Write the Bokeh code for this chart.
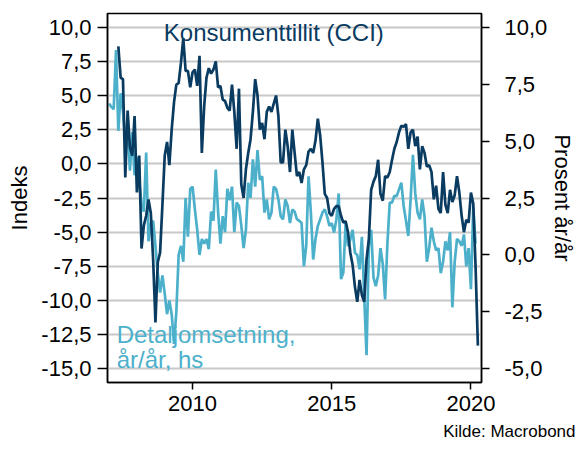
from bokeh.plotting import figure
from bokeh.models import Range1d, LinearAxis, FixedTicker, CustomJSTickFormatter, Label, Title
from bokeh.embed import file_html
from bokeh.resources import INLINE

# ---- data ----
cci_start = (2007, 5)   # first month of CCI series
cci_values = [8.6, 6.3, 6.2, -1.0, 3.9, 1.2, 0.6, 3.5, -2.1, 0.6,
              -6.2, -4.5, -3.8, -2.6, -3.6, -7.0, -11.6, -7.2, -6.5, -3.0,
              0.6, 1.6, -0.1, 2.5, 4.5, 5.8, 5.9, 7.4, 9.2, 6.8,
              6.8, 5.6, 6.7, 6.9, 5.7, 7.9, 0.8, 4.2, 6.3, 7.0,
              6.6, 6.9, 7.5, 5.6, 5.7, 4.7, 4.6, 4.1, 3.9, 5.8,
              3.8, 1.1, 5.5, -1.5, -2.5, -0.4, 0.8, 1.8, 3.8, 6.2,
              5.0, 2.5, 3.0, 1.8, 3.8, 4.2, 3.8, 4.4, 5.0, 3.5,
              0.1, 0.1, 2.5, 1.3, -0.6, 2.5, 0.8, -0.9, -0.6, -1.4,
              -0.4, -0.1, 0.9, 1.1, 0.8, 1.7, 3.3, 2.1, 0.1, -2.2,
              -2.5, -3.6, -3.8, -3.3, -3.1, -3.1, -3.8, -4.3, -4.2, -5.0,
              -6.5, -7.4, -9.0, -10.1, -8.5, -9.6, -10.1, -7.0, -5.5, -1.9,
              -1.3, -0.9, 0.3, -2.2, -2.7, -0.9, -1.0, -0.6, 0.3, 1.1,
              1.6, 2.3, 2.8, 2.7, 2.9, 1.1, 2.3, 2.5, 1.3, 2.0,
              -0.4, 1.3, 0.8, -0.2, -0.1, -0.6, -2.6, -1.6, -3.3, -3.6,
              -0.6, -3.0, -3.6, -1.9, -2.8, -2.3, -0.9, -2.1, -3.8, -5.0,
              -4.1, -4.3, -2.1, -2.9, -7.5, -13.3]

retail_start = (2007, 1)
retail_values = [6.65, 6.5, 6.4, 9.0, 5.45, 7.1, 6.3, 5.0, 5.5, 3.7,
                 5.4, 3.5, 4.3, 3.3, 2.2, 1.9, 4.5, 0.6, 1.4, 1.5,
                 0.4, -0.8, -1.65, -0.9, -1.7, -2.6, -2.0, -2.6, -3.9, -2.5,
                 0.0, 0.4, -0.3, 2.5, 0.8, 2.9, 3.0, 2.0, 1.1, 0.0,
                 0.7, 0.5, 0.7, 0.25, 1.9, 1.5, 3.75, 1.9, 0.5, 1.7,
                 1.0, 2.9, 2.4, 3.0, 1.0, 2.3, 2.15, 1.3, 0.3, 1.1,
                 3.17, 2.5, 4.2, 3.0, 4.6, 3.3, 3.45, 1.86, 2.44, 1.56,
                 1.86, 3.0, 2.9, 2.44, 1.7, 1.56, 2.44, 2.15, 1.4, 2.0,
                 1.9, 1.56, 1.5, 1.4, -0.5, 0.4, 3.45, 1.86, -0.2, 0.7,
                 1.27, 1.56, 1.86, 2.0, 1.7, 1.27, 1.4, 0.98, 1.56, 2.7,
                 -1.06, -0.77, 1.4, 0.39, 0.68, 1.1, 0.1, 0.0, -0.63, 0.8,
                 -1.8, -4.4, 0.39, 1.1, -1.0, -1.37, -0.9, 0.3, -0.4, -1.95,
                 0.5, 2.3, 2.3, 2.6, 2.58, 2.88, 3.17, 2.15, 1.5, 0.83,
                 2.44, 4.4, 2.7, 1.86, 1.56, 2.44, 1.7, -0.3, 0.3, 1.2,
                 0.6, 0.2, 0.3, -0.8, -0.3, 0.6, 0.2, 1.0, -2.3, -0.3,
                 0.7, 0.6, 0.4, 0.9, -0.5, 0.3, -1.5, 2.1, 0.5]

left_ticks = [-15, -12.5, -10, -7.5, -5, -2.5, 0, 2.5, 5, 7.5, 10]
right_ticks = [-5, -2.5, 0, 2.5, 5, 7.5, 10]
x_ticks = [2010, 2015, 2020]

cci_label = "Konsumenttillit (CCI)"
retail_label_1 = "Detaljomsetning,"
retail_label_2 = "år/år, hs"
left_title = "Indeks"
right_title = "Prosent år/år"
source_text = "Kilde: Macrobond"


def month_axis(start, n):
    y0, m0 = start
    return [y0 + (m0 - 1 + i) / 12.0 for i in range(n)]


cci_x = month_axis(cci_start, len(cci_values))
retail_x = month_axis(retail_start, len(retail_values))

DARK = "#0a3b61"
LIGHT = "#4cb0cb"
FONT = "Liberation Sans"

p = figure(width=578, height=452, output_backend="svg", toolbar_location=None, tools="",
           x_range=Range1d(2006.944, 2020.38), y_range=Range1d(-16, 11),
           min_border_left=107, min_border_right=91, min_border_top=13, min_border_bottom=70)
p.extra_y_ranges = {"right": Range1d(-5.6, 10.6)}

p.background_fill_color = "white"
p.border_fill_color = "white"
p.outline_line_color = "black"
p.outline_line_width = 1.5
p.outline_line_alpha = 1.0

fmt = CustomJSTickFormatter(code="return tick.toFixed(1).replace('.', ',');")

def style_axis(ax, tick_out):
    ax.axis_line_color = "black"
    ax.axis_line_width = 1.5
    ax.major_tick_line_color = "black"
    ax.major_tick_line_width = 1.5
    ax.major_tick_out = tick_out
    ax.major_tick_in = 0
    ax.minor_tick_line_color = None
    ax.major_label_text_font = FONT
    ax.major_label_text_font_size = "22px"
    ax.major_label_text_color = "black"
    ax.axis_label_text_font = FONT
    ax.axis_label_text_font_size = "22px"
    ax.axis_label_text_font_style = "normal"
    ax.axis_label_text_color = "black"

ly = p.yaxis[0]
ly.ticker = FixedTicker(ticks=left_ticks)
ly.formatter = fmt
ly.axis_label = left_title
style_axis(ly, 10)
ly.major_label_standoff = 6
ly.axis_label_standoff = 6

ry = LinearAxis(y_range_name="right", ticker=FixedTicker(ticks=right_ticks), formatter=fmt,
                axis_label=right_title)
style_axis(ry, 8)
ry.major_label_standoff = 15
ry.axis_label_standoff = 0
p.add_layout(ry, "right")

xa = p.xaxis[0]
xa.ticker = FixedTicker(ticks=x_ticks)
style_axis(xa, 7)
xa.major_label_standoff = 6

p.add_layout(Title(text=source_text, align="right", text_font=FONT, text_font_size="17px",
                   text_font_style="normal", text_color="black", offset=-94, standoff=12), "below")

p.xgrid.grid_line_color = None
p.ygrid.ticker = FixedTicker(ticks=left_ticks)
p.ygrid.grid_line_color = "#c8c8c8"
p.ygrid.grid_line_width = 2

p.line(retail_x, retail_values, y_range_name="right", line_color=LIGHT, line_width=2.7)
p.line(cci_x, cci_values, line_color=DARK, line_width=2.7)

p.add_layout(Label(x=2008.966, y=9.62, text=cci_label, text_color=DARK, text_font=FONT,
                   text_font_size="24px", text_baseline="alphabetic"))
p.add_layout(Label(x=2007.273, y=-12.47, text=retail_label_1, text_color=LIGHT, text_font=FONT,
                   text_font_size="24px", text_baseline="alphabetic"))
p.add_layout(Label(x=2007.273, y=-14.29, text=retail_label_2, text_color=LIGHT, text_font=FONT,
                   text_font_size="24px", text_baseline="alphabetic"))

open("out.html", "w").write(file_html(p, INLINE))
